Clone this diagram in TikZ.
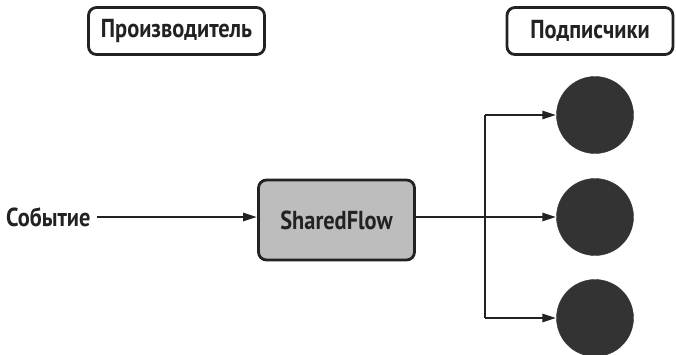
\documentclass[tikz,border=0pt]{standalone}
\usepackage{fontspec}
\setmainfont{PT Sans}[FakeStretch=0.86]
\usetikzlibrary{arrows.meta}
\definecolor{ink}{HTML}{222222}
\definecolor{boxgray}{HTML}{BDBDBD}
\definecolor{dotgray}{HTML}{333333}
\tikzset{
  lbl/.style={font=\bfseries\fontsize{26}{30}\selectfont, text=ink},
  titlebox/.style={lbl, draw=ink, line width=2.8pt, rounded corners=8pt, fill=white, minimum height=47pt, inner sep=0pt},
  flowbox/.style={lbl, draw=ink, line width=2.8pt, rounded corners=8pt, fill=boxgray, minimum width=156pt, minimum height=80pt, inner sep=0pt},
  sub/.style={circle, fill=dotgray, draw=dotgray, minimum size=77pt, inner sep=0pt},
  conn/.style={draw=ink, line width=2.6pt, -{Triangle[length=14pt,width=8pt]}},
  wire/.style={draw=ink, line width=2.6pt}
}
\begin{document}
\begin{tikzpicture}[x=1pt,y=-1pt]
\useasboundingbox (0,0) rectangle (676,354);
\node[titlebox, minimum width=176pt] (prod) at (176.5,31) {Производитель};
\node[titlebox, minimum width=166pt] (subs) at (590,31) {Подписчики};
\node[lbl, anchor=west, inner sep=0pt] (ev) at (6,217) {Событие};
\node[flowbox] (sf) at (336.5,220) {SharedFlow};
\node[sub] (c1) at (595,115) {};
\node[sub] (c2) at (595,217) {};
\node[sub] (c3) at (595,318) {};
\coordinate (j1) at (485,115);
\coordinate (j3) at (485,318);
\draw[conn] ([xshift=6pt]ev.east) -- (sf.west |- ev.east);
\draw[conn] (sf.east |- c2) -- (c2.west);
\draw[wire] (j1) -- (j3);
\draw[conn] (j1) -- (c1.west);
\draw[conn] (j3) -- (c3.west);
\end{tikzpicture}
\end{document}
